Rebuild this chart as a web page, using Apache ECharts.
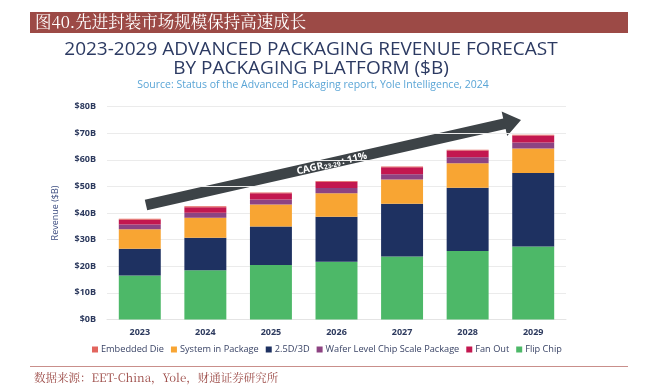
<!DOCTYPE html>
<html><head><meta charset="utf-8">
<script src="https://cdn.jsdelivr.net/npm/echarts@6/dist/echarts.min.js"></script>
<style>html,body{margin:0;padding:0;background:#fff}#c{width:647px;height:389px}</style>
</head><body><div id="c"></div>
<script>
const years = ['2023','2024','2025','2026','2027','2028','2029'];
const flipChip = [16.5, 18.5, 20.5, 21.7, 23.7, 25.7, 27.4];
const d25 = [10.1, 12.2, 14.4, 16.9, 19.8, 23.8, 27.6];
const sip = [7.3, 7.5, 8.3, 8.8, 9.1, 9.2, 9.2];
const wlcsp = [1.8, 1.9, 1.9, 2.0, 2.0, 2.2, 2.3];
const fanOut = [1.8, 2.1, 2.3, 2.3, 2.6, 2.6, 2.6];
const embeddedDie = [0.3, 0.3, 0.3, 0.3, 0.3, 0.3, 0.3];
const yTicks = [0, 10, 20, 30, 40, 50, 60, 70, 80];
const legendOrder = ['Embedded Die','System in Package','2.5D/3D','Wafer Level Chip Scale Package','Fan Out','Flip Chip'];

const chart = echarts.init(document.getElementById('c'), null, {renderer:'canvas'});
const font = '"Open Sans", "DejaVu Sans", sans-serif';
const navyText = '#2d3a5e';

function bar(name, data, color){
  return {name, type:'bar', stack:'t', data, barWidth:'64%', itemStyle:{color}, emphasis:{disabled:true}};
}

// arrow geometry (decoration)
const p0=[146,205], p1=[521,120];
const dx=p1[0]-p0[0], dy=p1[1]-p0[1], L=Math.hypot(dx,dy);
const ux=dx/L, uy=dy/L, nx=-uy, ny=ux;
const ht=5.5, hl=17, hw=12.5;
const bx=p1[0]-ux*hl, by=p1[1]-uy*hl;
const arrowPts=[
 [p0[0]+nx*ht,p0[1]+ny*ht],[bx+nx*ht,by+ny*ht],[bx+nx*hw,by+ny*hw],p1,
 [bx-nx*hw,by-ny*hw],[bx-nx*ht,by-ny*ht],[p0[0]-nx*ht,p0[1]-ny*ht]];
const ang=Math.atan2(-dy,dx);
const tc=[331,164];

chart.setOption({
  animation:false,
  backgroundColor:'#fff',
  textStyle:{fontFamily:font},
  title:[
    {text:'2023-2029 ADVANCED PACKAGING REVENUE FORECAST\nBY PACKAGING PLATFORM ($B)', left:306, textAlign:'center', top:35,
     textStyle:{fontFamily:font, fontSize:19, fontWeight:'normal', color:'#2c3a62', lineHeight:19}},
    {text:'Source: Status of the Advanced Packaging report, Yole Intelligence, 2024', left:308, textAlign:'center', top:75,
     textStyle:{fontFamily:font, fontSize:10.5, fontWeight:'normal', color:'#5aa5d6'}}
  ],
  grid:{left:107, right:81, top:106.5, bottom:69.5, containLabel:false},
  legend:{data:legendOrder, left:87, top:340, itemWidth:6, itemHeight:6, itemGap:7, icon:'rect',
    textStyle:{fontFamily:font, fontSize:9.2, color:'#3a4466', padding:[0,0,0,-2]}, selectedMode:false},
  xAxis:{type:'category', data:years, axisLine:{lineStyle:{color:'#e4e4e4'}}, axisTick:{show:false},
    axisLabel:{color:navyText, fontWeight:'bold', fontSize:9, margin:8, fontFamily:font}},
  yAxis:{type:'value', min:0, max:80, interval:10,
    name:'Revenue ($B)', nameLocation:'middle', nameGap:47, nameRotate:90,
    nameTextStyle:{color:'#3d4d80', fontSize:9, fontFamily:font},
    axisLine:{show:false}, axisTick:{show:false},
    splitLine:{lineStyle:{color:'#ebebeb'}},
    axisLabel:{color:navyText, fontWeight:'bold', fontSize:9, margin:11, fontFamily:font,
      formatter:v=> yTicks.includes(v) ? '$'+v+'B' : ''}},
  series:[
    bar('Flip Chip', flipChip, '#4db868'),
    bar('2.5D/3D', d25, '#1e3161'),
    bar('System in Package', sip, '#f8a533'),
    bar('Wafer Level Chip Scale Package', wlcsp, '#8d4382'),
    bar('Fan Out', fanOut, '#c3174f'),
    bar('Embedded Die', embeddedDie, '#e2655e')
  ],
  graphic:[
    {type:'rect', shape:{x:30,y:12,width:598,height:21}, style:{fill:'#9c4a46'}},
    {type:'text', left:35, top:13, style:{text:'图40.先进封装市场规模保持高速成长', fill:'#fff', fontSize:16.5,
      fontFamily:'"Noto Serif CJK SC", "Noto Sans CJK SC", serif'}},
    {type:'polygon', shape:{points:arrowPts}, style:{fill:'#3d4347'}},
    {type:'group', x:tc[0], y:tc[1], rotation:ang, children:[
      {type:'text', x:-8, y:0, style:{text:'CAGR', fill:'#fff', fontSize:10, fontFamily:font, fontWeight:'bold', align:'right', verticalAlign:'middle'}},
      {type:'text', x:-7.5, y:2, style:{text:'23-29', fill:'#fff', fontSize:6.5, fontFamily:font, fontWeight:'bold', align:'left', verticalAlign:'middle'}},
      {type:'text', x:11, y:0, style:{text:': 11%', fill:'#fff', fontSize:10, fontFamily:font, fontWeight:'bold', align:'left', verticalAlign:'middle'}}
    ]},
    {type:'line', shape:{x1:30,y1:366.5,x2:628,y2:366.5}, style:{stroke:'#c98f8b', lineWidth:1}},
    {type:'text', left:34, top:372, style:{text:'数据来源：EET-China，Yole，财通证券研究所', fill:'#9c4a46', fontSize:11.5,
      fontFamily:'"Noto Serif CJK SC", "Noto Sans CJK SC", serif'}}
  ]
});
</script></body></html>
